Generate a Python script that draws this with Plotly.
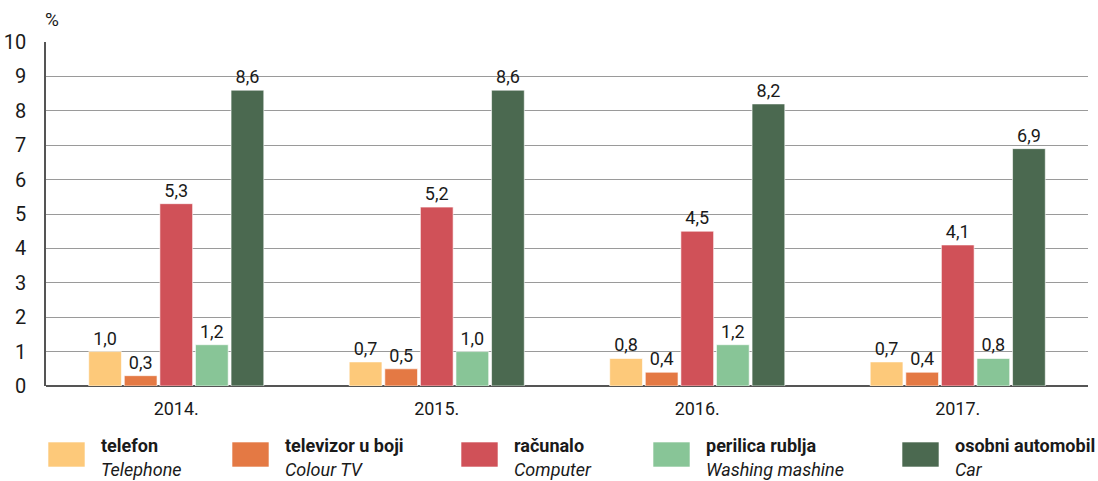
import plotly.graph_objects as go

years = ["2014.", "2015.", "2016.", "2017."]
series_hr = ["telefon", "televizor u boji", "računalo", "perilica rublja", "osobni automobil"]
series_en = ["Telephone", "Colour TV", "Computer", "Washing mashine", "Car"]
colors = ["#FDC97A", "#E47944", "#D05158", "#88C597", "#4B6950"]
values = [
    [1.0, 0.7, 0.8, 0.7],
    [0.3, 0.5, 0.4, 0.4],
    [5.3, 5.2, 4.5, 4.1],
    [1.2, 1.0, 1.2, 0.8],
    [8.6, 8.6, 8.2, 6.9],
]
y_ticks = list(range(0, 11))

FONT = "Roboto, Liberation Sans, sans-serif"

fig = go.Figure()
for name, col, vals in zip(series_hr, colors, values):
    fig.add_trace(go.Bar(
        x=years, y=vals, name=name,
        marker=dict(color=col, line=dict(color="rgba(255,255,255,0.6)", width=1)),
        texttemplate="%{y:.1f}", textposition="outside",
        textfont=dict(size=18, color="#1a1a1a", family=FONT),
        cliponaxis=False,
    ))

W, H = 1098, 481
ml, mr, mt, mb = 46, 10, 42, 95
fig.update_layout(
    width=W, height=H,
    margin=dict(l=ml, r=mr, t=mt, b=mb, autoexpand=False),
    barmode="group", bargap=0.317, bargroupgap=0.08,
    separators=",.",
    plot_bgcolor="white", paper_bgcolor="white",
    showlegend=False,
    font=dict(family=FONT, size=18, color="#1a1a1a"),
)
fig.update_yaxes(
    range=[0, 10], tickvals=y_ticks, showgrid=True, gridcolor="#9a9a9a", gridwidth=1,
    zeroline=True, zerolinecolor="#555555", zerolinewidth=1.5,
    showline=True, linecolor="#555555", linewidth=1.5,
    ticks="", ticklabelstandoff=14, tickfont=dict(size=20, color="#1a1a1a"),
)
fig.update_xaxes(
    showline=False, ticks="", tickfont=dict(size=18, color="#1a1a1a"),
    ticklabelstandoff=10,
)

pw = W - ml - mr
ph = H - mt - mb
def px2paper_x(px):
    return (px - ml) / pw
def px2paper_y(py):
    return 1 - (py - mt) / ph

fig.add_annotation(x=px2paper_x(52), y=px2paper_y(20), xref="paper", yref="paper",
                   xanchor="center", yanchor="middle",
                   text="%", showarrow=False, font=dict(size=19, color="#1a1a1a"))

leg_x = [48, 232, 461, 653, 902]
for lx, hr, en, col in zip(leg_x, series_hr, series_en, colors):
    fig.add_shape(type="rect", xref="paper", yref="paper",
                  x0=px2paper_x(lx), x1=px2paper_x(lx + 37),
                  y0=px2paper_y(467), y1=px2paper_y(442),
                  fillcolor=col, line=dict(color="rgba(255,255,255,0.6)", width=1))
    fig.add_annotation(x=px2paper_x(lx + 51), y=px2paper_y(445), xref="paper", yref="paper",
                       xanchor="left", yanchor="middle", showarrow=False,
                       text="<b>" + hr + "</b>", font=dict(size=18, color="#1a1a1a"))
    fig.add_annotation(x=px2paper_x(lx + 51), y=px2paper_y(469), xref="paper", yref="paper",
                       xanchor="left", yanchor="middle", showarrow=False,
                       text="<i>" + en + "</i>", font=dict(size=18, color="#1a1a1a"))

fig.write_html("out.html", config={"displayModeBar": False},
               post_script="document.body.style.margin='0';")
